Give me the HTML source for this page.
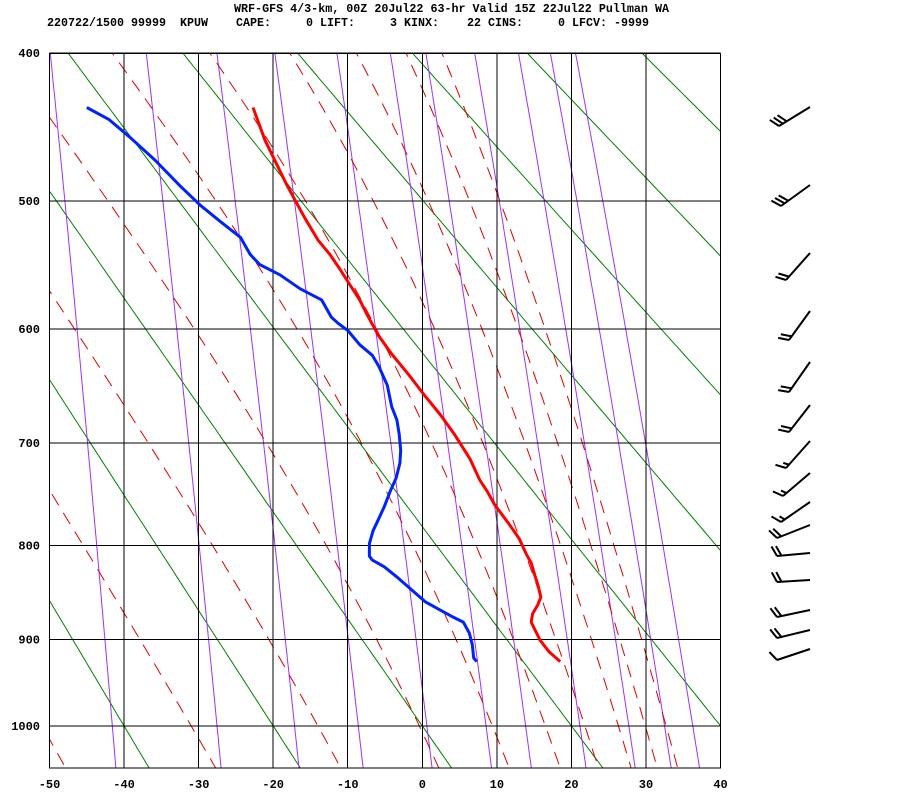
<!DOCTYPE html>
<html><head><meta charset="utf-8"><style>
html,body{margin:0;padding:0;background:#fff;}
svg{display:block;}
text{font-family:"Liberation Mono",monospace;font-weight:bold;fill:#000;}
</style></head><body>
<svg id="chart" width="900" height="800" viewBox="0 0 900 800" xmlns="http://www.w3.org/2000/svg">
<rect x="0" y="0" width="900" height="800" fill="#fff"/>
<text x="234" y="12" font-size="11.7" textLength="435" lengthAdjust="spacingAndGlyphs">WRF-GFS 4/3-km, 00Z 20Jul22 63-hr Valid 15Z 22Jul22 Pullman WA</text>
<text x="47" y="26" font-size="11.7" textLength="602" lengthAdjust="spacingAndGlyphs" xml:space="preserve">220722/1500 99999  KPUW    CAPE:     0 LIFT:     3 KINX:    22 CINS:     0 LFCV: -9999</text>
<defs><clipPath id="plotclip"><rect x="49.5" y="53" width="671" height="715"/></clipPath></defs>
<g id="bg" clip-path="url(#plotclip)"></g>
<g id="grid"></g>
<g id="traces" clip-path="url(#plotclip)"></g>
<g id="axes"></g>
<g id="barbs"></g>
</svg>
<script>
// ---- data ----
const isothermTicks = [-50,-40,-30,-20,-10,0,10,20,30,40];
const isobarTicks = [400,500,600,700,800,900,1000];
const dryAdiabatThetaC = [-40,-20,0,20,40,60,80,100,120];
const mixingRatios = [0.1,0.4,1,2,4,7,10,16,24,32,40];
const moistT1000 = [-51,-31,-14,-0.4,9.4,16.5,21.8,26.3,29.9,32.7];
const tempP = [925,914,901,881,872,862,854,841,831,818,808,793,778,759,746,735,715,693,674,656,638,621,605,588,576,564,551,540,529,513,499,488,474,457,435];
const tempT = [18.5,17.0,15.8,14.6,14.8,15.5,15.9,15.5,15.1,14.6,13.9,13.0,11.6,9.7,8.7,7.7,6.4,4.4,2.4,0.2,-1.9,-4.1,-5.9,-7.4,-8.4,-9.7,-11.1,-12.4,-14.0,-15.7,-17.1,-18.2,-19.5,-21.1,-22.7];
const dewP = [925,921,906,893,881,875,868,859,852,843,832,822,815,811,798,785,774,761,746,733,719,707,692,679,667,648,632,622,613,601,595,590,576,567,556,548,540,527,515,503,489,471,455,443,435];
const dewT = [7.3,6.9,6.7,6.3,5.5,4.0,2.4,0.4,-0.6,-1.9,-3.5,-5.1,-6.7,-7.1,-7.1,-6.6,-5.9,-5.1,-4.3,-3.5,-3.0,-2.9,-3.1,-3.4,-4.1,-4.7,-5.8,-6.7,-8.4,-10.0,-11.3,-12.2,-13.5,-16.4,-19.1,-21.8,-23.1,-24.4,-27.1,-29.8,-32.5,-35.8,-39.2,-42.0,-45.0];
// wind barbs: tip/base y, feather counts
const barbTipY = [107,185,253,311,362,405,441,473,502,525,553,580,610,630,649];
const barbBaseX = [779,781,786,789,789,789,786,783,781,777,777,777,777,777,777];
const barbBaseY = [126,206,280,340,392,432,468,496,522,538,556,582,617,638,660];
const barbFull = [3,3,2,2,2,2,1,1,1,2,2,2,2,2,1];
const barbHalf = [0,0,0,0,0,0,1,1,1,0,0,0,0,0,0];

// ---- axes ----
const K = 0.2857;
const X0 = 49.5, XS = 7.456, Y0 = 53, YS = 406, PK0 = Math.pow(400, K);
function xT(t){ return X0 + (t + 50) * XS; }
function yP(p){ return Y0 + YS * (Math.pow(p, K) - PK0); }
const PBOT = Math.pow(PK0 + 715 / YS, 1 / K);
const NS = "http://www.w3.org/2000/svg";
function mk(tag, parent, attrs){ const e = document.createElementNS(NS, tag); for (const k in attrs) e.setAttribute(k, attrs[k]); parent.appendChild(e); return e; }
function pts(arr){ return arr.map(a => a[0].toFixed(1) + "," + a[1].toFixed(1)).join(" "); }
const bg = document.getElementById('bg'), grid = document.getElementById('grid'), traces = document.getElementById('traces'), axes = document.getElementById('axes'), barbs = document.getElementById('barbs');

function es(tc){ return 6.112 * Math.exp(17.67 * tc / (tc + 243.5)); }
function thetaE(TK, p){ const e = es(TK - 273.15); const ws = 0.622 * e / (p - e); return TK * Math.pow(1000 / p, K) * Math.exp(2.5e6 * ws / (1004 * TK)); }

// pressure sample levels
const levels = [];
for (let p = PBOT; p >= 395; p -= 5) levels.push(p);
levels.push(395);

// dry adiabats
dryAdiabatThetaC.forEach(th => {
  const a = levels.map(p => [xT((th + 273.15) * Math.pow(p / 1000, K) - 273.15), yP(p)]);
  const el = mk('polyline', bg, {points: pts(a), fill: 'none', stroke: '#008000', 'stroke-width': 1});
  
  
});
// mixing ratio lines
mixingRatios.forEach(w => {
  const a = levels.map(p => { const e = w * p / (622 + w); const l = Math.log(e / 6.112); return [xT(243.5 * l / (17.67 - l)), yP(p)]; });
  const el = mk('polyline', bg, {points: pts(a), fill: 'none', stroke: '#9933ff', 'stroke-width': 1});
  
  
});
// moist adiabats
moistT1000.forEach(t0 => {
  const target = thetaE(t0 + 273.15, 1000);
  const a = [];
  for (let i = levels.length - 1; i >= 0; i--) {
    const p = levels[i];
    let lo = 150, hi = 340;
    for (let k = 0; k < 40; k++) { const m = (lo + hi) / 2; if (thetaE(m, p) > target) hi = m; else lo = m; }
    a.push([xT((lo + hi) / 2 - 273.15), yP(p)]);
  }
  const el = mk('polyline', bg, {points: pts(a), fill: 'none', stroke: '#dd0000', 'stroke-width': 1, 'stroke-dasharray': '13,9'});
  
  
});
// grid
isothermTicks.forEach(t => {
  const el = mk('line', grid, {x1: xT(t), x2: xT(t), y1: 53, y2: 768, stroke: '#000', 'stroke-width': 1, 'shape-rendering': 'crispEdges'});
  
  
  const tx = mk('text', axes, {x: xT(t), y: 788, 'font-size': 12, 'text-anchor': 'middle'});
  tx.textContent = String(t);
  
  
});
isobarTicks.forEach(p => {
  const el = mk('line', grid, {x1: 49.5, x2: 720.5, y1: yP(p), y2: yP(p), stroke: '#000', 'stroke-width': 1, 'shape-rendering': 'crispEdges'});
  
  
  const tx = mk('text', axes, {x: 40, y: yP(p) + 4, 'font-size': 12, 'text-anchor': 'end'});
  tx.textContent = String(p);
  
  
});
const frame = mk('rect', grid, {x: 49.5, y: 53.5, width: 671, height: 714.5, fill: 'none', stroke: '#000', 'stroke-width': 1, 'shape-rendering': 'crispEdges'});


// traces
const tline = mk('polyline', traces, {points: pts(tempP.map((p, i) => [xT(tempT[i]), yP(p)])), fill: 'none', stroke: '#ff0000', 'stroke-width': 3, 'stroke-linejoin': 'round'});


const dline = mk('polyline', traces, {points: pts(dewP.map((p, i) => [xT(dewT[i]), yP(p)])), fill: 'none', stroke: '#0022ff', 'stroke-width': 3, 'stroke-linejoin': 'round'});


// wind barbs
barbTipY.forEach((ty, i) => {
  const tx = 810, bx = barbBaseX[i], by = barbBaseY[i];
  const g = mk('g', barbs, {stroke: '#000', 'stroke-width': 2, fill: 'none'});
  
  
  mk('line', g, {x1: tx, y1: ty, x2: bx, y2: by});
  const L = Math.hypot(bx - tx, by - ty), ux = (bx - tx) / L, uy = (by - ty) / L;
  const ang = 65 * Math.PI / 180, fx = ux * Math.cos(ang) - uy * Math.sin(ang), fy = ux * Math.sin(ang) + uy * Math.cos(ang);
  let k = 0;
  for (let j = 0; j < barbFull[i]; j++, k++) {
    const px = bx - ux * 4.5 * k, py = by - uy * 4.5 * k;
    mk('line', g, {x1: px, y1: py, x2: px + fx * 11, y2: py + fy * 11});
  }
  for (let j = 0; j < barbHalf[i]; j++, k++) {
    const px = bx - ux * 4.5 * k, py = by - uy * 4.5 * k;
    mk('line', g, {x1: px, y1: py, x2: px + fx * 6, y2: py + fy * 6});
  }
});
</script>
</body></html>
